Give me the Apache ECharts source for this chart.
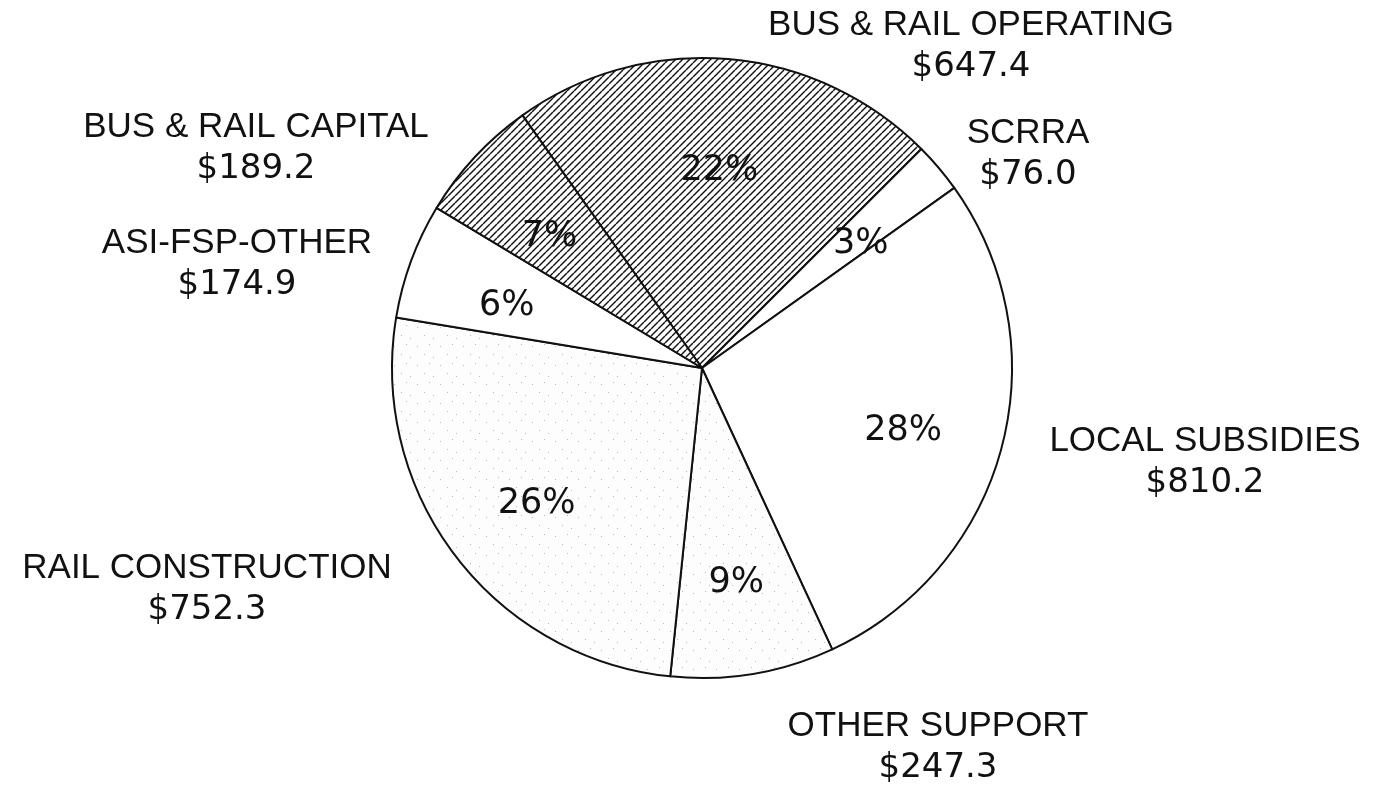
<!DOCTYPE html>
<html>
<head>
<meta charset="utf-8">
<style>
  html, body { margin: 0; padding: 0; background: #fff; }
  #chart { width: 1377px; height: 785px; }
</style>
<script src="https://cdn.jsdelivr.net/npm/echarts@6/dist/echarts.min.js"></script>
</head>
<body>
<div id="chart"></div>
<script>
// slices in clockwise order starting at the top-left edge of BUS & RAIL OPERATING
const names = ['BUS & RAIL OPERATING', 'SCRRA', 'LOCAL SUBSIDIES', 'OTHER SUPPORT',
  'RAIL CONSTRUCTION', 'ASI-FSP-OTHER', 'BUS & RAIL CAPITAL'];
const amounts = [647.4, 76.0, 810.2, 247.3, 752.3, 174.9, 189.2];
const fills = ['hatch', 'plain', 'plain', 'dots', 'dots', 'plain', 'hatch'];

// where each name / amount block sits on the page
const labelX = [971, 1028, 1205, 938, 207, 237, 256];
const labelY = [46, 154, 462, 747, 589, 264, 148];

const FONT = '"Liberation Sans", Arial, Helvetica, sans-serif';
const NUM_FONT = '"DejaVu Sans", "Liberation Sans", sans-serif';
const INK = '#111';

function hatchTile() {
  const c = document.createElement('canvas');
  c.width = 7; c.height = 7;
  const g = c.getContext('2d');
  g.fillStyle = '#fff';
  g.fillRect(0, 0, 7, 7);
  g.strokeStyle = INK;
  g.lineWidth = 1.4;
  for (const off of [-7, 0, 7]) {
    g.beginPath();
    g.moveTo(off, 7);
    g.lineTo(off + 7, 0);
    g.stroke();
  }
  return c;
}

function dotTile() {
  const c = document.createElement('canvas');
  c.width = 23; c.height = 19;
  const g = c.getContext('2d');
  g.fillStyle = '#fdfdfd';
  g.fillRect(0, 0, 23, 19);
  g.fillStyle = '#b8b8b8';
  g.fillRect(3, 4, 1, 1);
  g.fillRect(15, 2, 1, 1);
  g.fillRect(10, 12, 1, 1);
  g.fillRect(19, 15, 1, 1);
  return c;
}

const patterns = {
  hatch: { image: hatchTile(), repeat: 'repeat' },
  dots: { image: dotTile(), repeat: 'repeat' },
  plain: '#fff'
};

const sliceData = names.map((n, i) => ({
  name: n,
  value: amounts[i],
  itemStyle: { color: patterns[fills[i]] }
}));

const chart = echarts.init(document.getElementById('chart'));
chart.setOption({
  backgroundColor: '#fff',
  animation: false,
  series: [
    {
      type: 'pie',
      center: [702, 368],
      radius: 310,
      startAngle: 125.4,
      clockwise: true,
      silent: true,
      data: sliceData,
      itemStyle: { borderColor: INK, borderWidth: 2 },
      label: {
        show: true,
        position: 'outside',
        color: INK,
        align: 'center',
        formatter: p => '{n|' + p.name + '}\n{v|$' + p.value.toFixed(1) + '}',
        rich: {
          n: { fontFamily: FONT, fontSize: 35, lineHeight: 42, color: INK },
          v: { fontFamily: NUM_FONT, fontSize: 34, lineHeight: 42, color: INK }
        }
      },
      labelLine: { show: false },
      labelLayout: p => ({
        x: labelX[p.dataIndex],
        y: labelY[p.dataIndex],
        align: 'center',
        verticalAlign: 'middle'
      })
    },
    {
      type: 'pie',
      center: [702, 368],
      radius: [100, 310],
      startAngle: 125.4,
      clockwise: true,
      silent: true,
      data: names.map((n, i) => ({ name: n, value: amounts[i] })),
      itemStyle: { color: 'rgba(0,0,0,0)', borderWidth: 0 },
      label: {
        show: true,
        position: 'inside',
        offset: [0, 10],
        color: INK,
        fontFamily: NUM_FONT,
        fontSize: 35,
        formatter: p => Math.round(p.percent) + '%'
      },
      labelLine: { show: false }
    }
  ]
});
</script>
</body>
</html>
